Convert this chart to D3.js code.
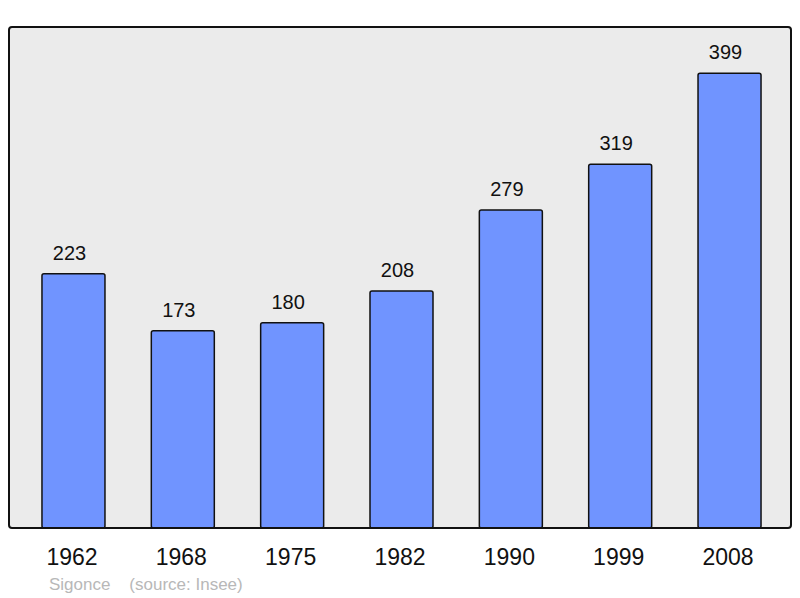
<!DOCTYPE html>
<html>
<head>
<meta charset="utf-8">
<script src="https://cdn.jsdelivr.net/npm/d3@7"></script>
<style>
  body { margin: 0; background: #fff; }
  svg { display: block; font-family: "Liberation Sans", Arial, sans-serif; }
</style>
</head>
<body>
<svg id="chart" width="800" height="598"></svg>
<script>
const years = ["1962", "1968", "1975", "1982", "1990", "1999", "2008"];
const population = [223, 173, 180, 208, 279, 319, 399];

const frame = { left: 9, top: 27, right: 791, bottom: 528 };

const svg = d3.select("#chart");

svg.append("rect")
    .attr("x", frame.left).attr("y", frame.top)
    .attr("width", frame.right - frame.left)
    .attr("height", frame.bottom - frame.top)
    .attr("rx", 3)
    .attr("fill", "#ebebeb");

const pad = 0.4238;
const x = d3.scaleBand().domain(years).range([18.8, 784.2])
    .paddingInner(pad).paddingOuter(pad / 2);
const y = d3.scaleLinear().domain([0, 439.5]).range([frame.bottom, frame.top]);

const data = years.map((yr, i) => ({ year: yr, value: population[i] }));

svg.append("g").selectAll("rect").data(data).join("rect")
    .attr("x", d => x(d.year))
    .attr("y", d => y(d.value))
    .attr("width", x.bandwidth())
    .attr("height", d => y(0) - y(d.value))
    .attr("rx", 2)
    .attr("fill", "#7094ff")
    .attr("stroke", "#111")
    .attr("stroke-width", 1.5);

svg.append("g").selectAll("text").data(data).join("text")
    .attr("x", d => x(d.year) + x.bandwidth() / 2 - 4)
    .attr("y", d => y(d.value) - 14)
    .attr("text-anchor", "middle")
    .attr("font-size", 20)
    .attr("fill", "#111")
    .text(d => d.value);

// frame border drawn on top
svg.append("rect")
    .attr("x", frame.left).attr("y", frame.top)
    .attr("width", frame.right - frame.left)
    .attr("height", frame.bottom - frame.top)
    .attr("rx", 3)
    .attr("fill", "none")
    .attr("stroke", "#111")
    .attr("stroke-width", 2);

const xAxis = svg.append("g")
    .attr("transform", `translate(-1.5,${frame.bottom})`)
    .call(d3.axisBottom(x).tickSize(0).tickPadding(21));
xAxis.select(".domain").remove();
xAxis.selectAll("text")
    .attr("font-size", 23)
    .attr("font-family", "Liberation Sans, Arial, sans-serif")
    .attr("fill", "#111");

svg.append("text")
    .attr("x", 49).attr("y", 590)
    .attr("font-size", 17)
    .attr("fill", "#b8b8b8")
    .attr("xml:space", "preserve")
    .text("Sigonce    (source: Insee)");
</script>
</body>
</html>
